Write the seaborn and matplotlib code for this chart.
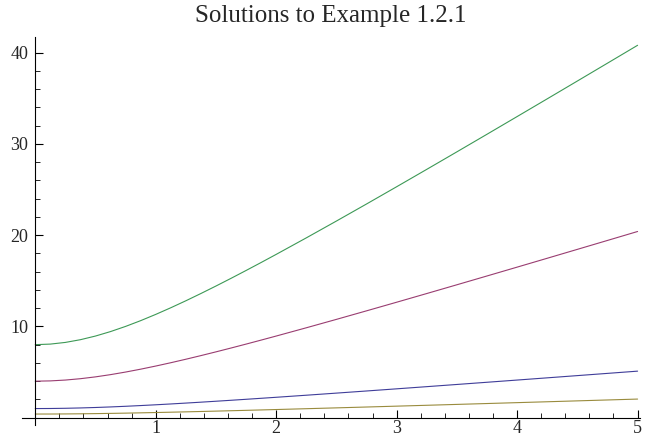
import matplotlib
matplotlib.use("Agg")
import matplotlib.pyplot as plt
import seaborn as sns
import pandas as pd
from matplotlib.ticker import MultipleLocator

x = [0.0, 0.125, 0.25, 0.375, 0.5, 0.625, 0.75, 0.875, 1.0, 1.125, 1.25, 1.375,
     1.5, 1.625, 1.75, 1.875, 2.0, 2.25, 2.5,
     2.75, 3.0, 3.25, 3.5, 3.75, 4.0, 4.25, 4.5, 4.75, 5.0]
blue = [1.0, 1.008, 1.031, 1.068, 1.118, 1.179, 1.25, 1.329, 1.414, 1.505, 1.601, 1.700,
        1.803, 1.908, 2.016, 2.125, 2.236, 2.462, 2.693,
        2.926, 3.162, 3.400, 3.640, 3.881, 4.123, 4.366, 4.610, 4.854, 5.099]
red = [4.0, 4.031, 4.123, 4.272, 4.472, 4.717, 5.0, 5.315, 5.657, 6.021, 6.403, 6.801,
       7.211, 7.632, 8.062, 8.500, 8.944, 9.849, 10.770,
       11.705, 12.649, 13.601, 14.560, 15.524, 16.492, 17.464, 18.439, 19.416, 20.396]
yellow = [0.4, 0.403, 0.412, 0.427, 0.447, 0.472, 0.5, 0.532, 0.566, 0.602, 0.640, 0.680,
          0.721, 0.763, 0.806, 0.850, 0.894, 0.985, 1.077,
          1.170, 1.265, 1.360, 1.456, 1.552, 1.649, 1.746, 1.844, 1.942, 2.040]
green = [8.0, 8.062, 8.246, 8.544, 8.944, 9.434, 10.0, 10.630, 11.314, 12.042, 12.806, 13.602,
         14.422, 15.264, 16.125, 17.000, 17.889, 19.698, 21.541,
         23.409, 25.298, 27.203, 29.120, 31.048, 32.985, 34.928, 36.878, 38.833, 40.792]
series_names = ["s1", "s2", "s3", "s4"]
colors = ["#3F3D99", "#993D71", "#998B3D", "#3D9956"]
title = "Solutions to Example 1.2.1"

frames = []
for name, vals in zip(series_names, [blue, red, yellow, green]):
    frames.append(pd.DataFrame({"x": x, "y": vals, "series": name}))
df = pd.concat(frames, ignore_index=True)

sns.set_style("ticks")
plt.rcParams["font.family"] = ["Liberation Serif", "DejaVu Serif"]

fig = plt.figure(figsize=(6.5, 4.42), dpi=100)
ax = fig.add_axes([22/650, 1 - 425/442, 618/650, 388/442])
sns.lineplot(data=df, x="x", y="y", hue="series", palette=colors, ax=ax,
             legend=False, linewidth=0.8, sort=False)

ax.set_xlim(-0.11, 5.02)
ax.set_ylim(-0.8, 41.7)
ax.spines["top"].set_visible(False)
ax.spines["right"].set_visible(False)
ax.spines["left"].set_position(("data", 0))
ax.spines["bottom"].set_position(("data", 0))
for s in ["left", "bottom"]:
    ax.spines[s].set_linewidth(0.8)
    ax.spines[s].set_color("black")

ax.xaxis.set_minor_locator(MultipleLocator(0.2))
ax.yaxis.set_minor_locator(MultipleLocator(2))
ax.set_xticks([1, 2, 3, 4, 5])
ax.set_yticks([10, 20, 30, 40])
ax.tick_params(axis="both", which="major", direction="in", length=6, width=0.8,
               labelsize=13, color="black")
ax.tick_params(axis="both", which="minor", direction="in", length=3.5, width=0.6,
               color="black")
ax.tick_params(axis="x", pad=2)
ax.tick_params(axis="y", pad=5)
ax.set_xlabel("")
ax.set_ylabel("")
ax.set_title(title, fontsize=18, pad=11)

fig.savefig("out.png", dpi=100)
